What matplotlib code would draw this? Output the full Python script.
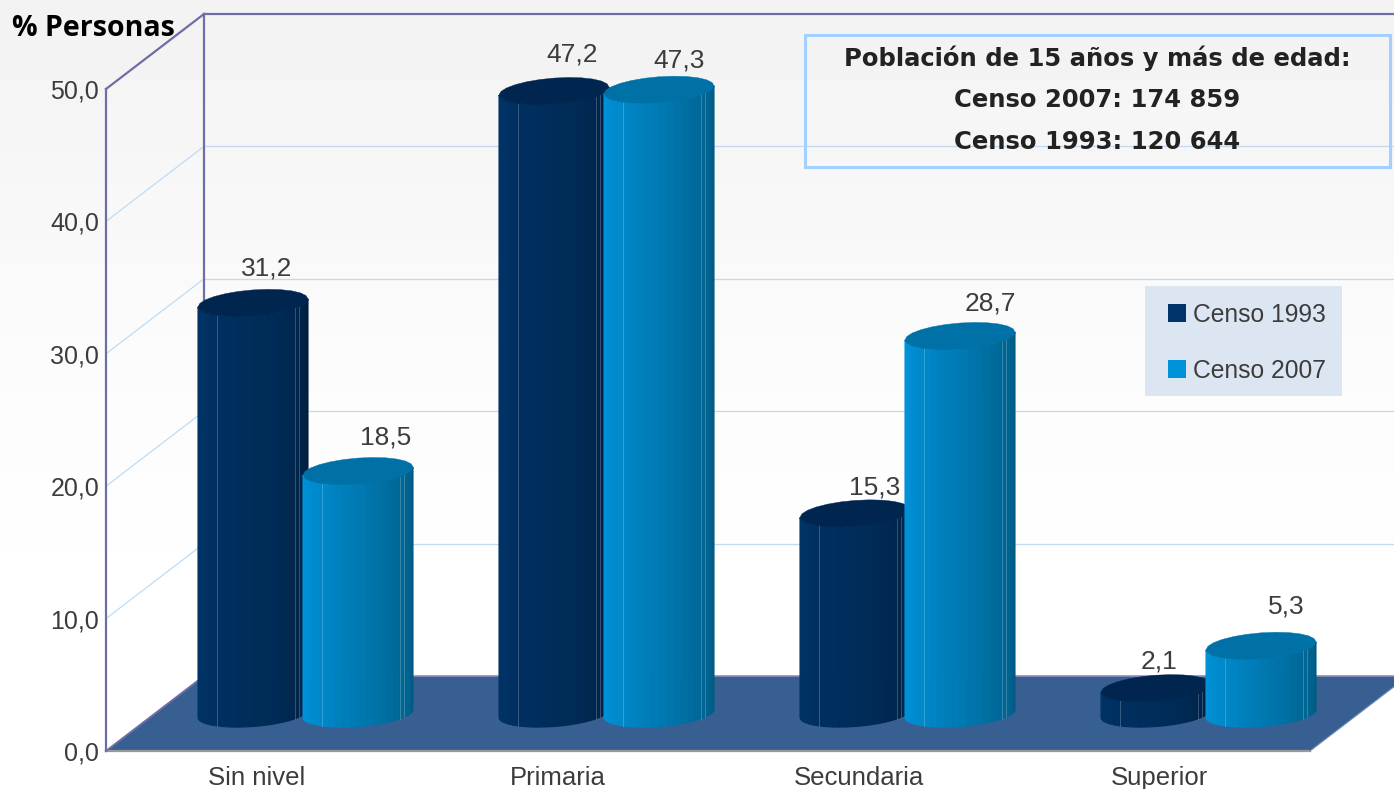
import numpy as np
import matplotlib
matplotlib.use("Agg")
import matplotlib.pyplot as plt
from matplotlib.lines import Line2D
from matplotlib.patches import Rectangle

categories = ["Sin nivel", "Primaria", "Secundaria", "Superior"]
censo_1993 = [31.2, 47.2, 15.3, 2.1]
censo_2007 = [18.5, 47.3, 28.7, 5.3]
y_ticks = [0, 10, 20, 30, 40, 50]
box_lines = ["Población de 15 años y más de edad:", "Censo 2007: 174 859", "Censo 1993: 120 644"]

W, H = 1394, 789
DARK = ["#003468", "#002f5f", "#002b56", "#001f3f"]
LIGHT = ["#0094dc", "#0086c6", "#0070a4", "#005b84"]
TOP_DARK = "#00264f"
TOP_LIGHT = "#0071a6"
TEXT = "#3c3c3c"
FRAME = "#6e6ea6"
GRID = "#c2d9ef"

# label nudges in px from the middle of each bar top
offs_93 = [(14, 32), (18, 34), (20, 23), (3, 24)]
offs_07 = [(28, 31), (20, 27), (30, 30), (25, 37)]

plt.rcParams["font.family"] = ["Liberation Sans", "DejaVu Sans"]

fig = plt.figure(figsize=(W / 100, H / 100), dpi=100)

# background gradient
bg = fig.add_axes([0, 0, 1, 1], zorder=-1)
bg.imshow(np.interp(np.linspace(0, 1, 30), [0, 0.43, 0.8, 1], [0.95, 0.985, 1, 1]).reshape(-1, 1),
          cmap="gray", vmin=0, vmax=1, aspect="auto")
bg.axis("off")

# axes = front plane of the 3d box
ax = fig.add_axes([106 / W, 1 - 751 / H, 1204 / W, 662 / H])
ax.set_xlim(-0.5, 3.5)
ax.set_ylim(0, 50)
ax.patch.set_visible(False)
for s in ax.spines.values():
    s.set_visible(False)
ax.set_xticks(range(4), categories)
ax.set_yticks(y_ticks, [f"{v:.1f}".replace(".", ",") for v in y_ticks])
ax.tick_params(length=0, labelcolor=TEXT, labelsize=18)
ax.tick_params(axis="x", pad=11, labelsize=18.5)
ax.tick_params(axis="y", pad=5)

# depth of the box in data units
dx = 98 / 301
dy = 75 / 13.24
px_x = 1 / 301
px_y = 1 / 13.24


def line(xs, ys, color, lw, z=1):
    ax.add_line(Line2D(xs, ys, color=color, lw=lw, clip_on=False, zorder=z))


# walls and grid
x0, x1 = -0.5, 3.5
for v in y_ticks[1:-1]:
    line([x0, x0 + dx], [v, v + dy], "#bfdcf5", 0.9)
    line([x0 + dx, x1 + dx], [v + dy, v + dy], GRID, 0.9)
ax.fill([x0, x1, x1 + dx, x0 + dx], [0, 0, dy, dy], color="#385f91", clip_on=False, zorder=2, lw=0)
line([x0 + dx, x1 + dx], [dy, dy], "#8f8fb8", 1.2, 2)
line([x0, x1], [0, 0], "#999999", 1.6, 2)
line([x1, x1 + dx], [0, dy], "#6f8fb5", 0.8, 2)
line([x0, x0], [0, 50], FRAME, 1.6, 3)
line([x0, x0 + dx], [0, dy], FRAME, 1.4, 3)
line([x0, x0 + dx], [50, 50 + dy], FRAME, 1.6, 3)
line([x0 + dx, x0 + dx], [dy, 50 + dy], FRAME, 1.6, 3)
line([x0 + dx, x1 + dx], [50 + dy, 50 + dy], FRAME, 1.6, 3)


def cylinder(cx, value, ramp, top_color, z):
    rx = 55 * px_x
    ry = 13 * px_y
    tilt = 4 * px_y
    base = dy / 2
    height = value - 2.5 * px_y  # tops sit a bit lower than the pure scale
    t = np.linspace(np.pi, 2 * np.pi, 23)
    xs = cx + rx * np.cos(t)
    ys = ry * np.sin(t) + tilt * np.cos(t)
    pos = np.linspace(0, 1, len(t) - 1)
    for i in range(len(t) - 1):
        shade = [np.interp(pos[i], [0, 0.3, 0.65, 1], [matplotlib.colors.to_rgb(c)[k] for c in ramp])
                 for k in range(3)]
        ax.fill([xs[i], xs[i + 1], xs[i + 1], xs[i]],
                [base + ys[i], base + ys[i + 1], base + height + ys[i + 1], base + height + ys[i]],
                color=shade, lw=0.8, clip_on=False, zorder=z)
    # thin highlights on some facets
    for i in (6, 17, 18):
        ax.add_line(Line2D([xs[i], xs[i]], [base + ys[i], base + height + ys[i]],
                           color="white", alpha=0.22, lw=0.7, clip_on=False, zorder=z + 0.1))
    tt = np.linspace(0, 2 * np.pi, 25)
    ax.fill(cx + rx * np.cos(tt), base + height + ry * np.sin(tt) + tilt * np.cos(tt),
            color=top_color, lw=0.3, clip_on=False, zorder=z + 0.2)


half = 52.5 * px_x
for i in range(len(categories)):
    mid = i + dx / 2
    cylinder(mid - half, censo_1993[i], DARK, TOP_DARK, 4 + 2 * i)
    cylinder(mid + half, censo_2007[i], LIGHT, TOP_LIGHT, 5 + 2 * i)
    for val, sign, off in ((censo_1993[i], -1, offs_93[i]), (censo_2007[i], 1, offs_07[i])):
        ax.text(mid + sign * half + off[0] * px_x, dy / 2 + val + off[1] * px_y,
                f"{val:.1f}".replace(".", ","), ha="center", va="center", fontsize=19,
                color=TEXT, zorder=20, clip_on=False)

# y title
fig.text(12 / W, 1 - 29 / H, "% Personas", fontsize=20.5, fontweight="bold", color="black",
         family="Open Sans", va="center", ha="left", zorder=30)

# population box
fig.add_artist(Rectangle((805 / W, 1 - 167 / H), 585 / W, 132 / H, fill=False, edgecolor="#a3d0ff",
                         lw=2.2, transform=fig.transFigure, zorder=10))
for txt, yp in zip(box_lines, [58, 100, 142]):
    fig.text(1097 / W, 1 - yp / H, txt, fontsize=17.5, fontweight="bold", color="#222222",
             family="DejaVu Sans", ha="center", va="center", zorder=30)

# legend, with its panel drawn apart so the padding can differ per side
fig.add_artist(Rectangle((1145 / W, 1 - 396 / H), 197 / W, 110 / H, facecolor="#dce6f2", edgecolor="none",
                         transform=fig.transFigure, zorder=14))
handles = [Line2D([], [], ls="", marker="s", ms=12.4, mew=0, color="#00346b"),
           Line2D([], [], ls="", marker="s", ms=12.4, mew=0, color="#0092d8")]
leg = fig.legend(handles, ["Censo 1993", "Censo 2007"], loc="upper left",
                 bbox_to_anchor=(1165 / W, 1 - 303 / H), fontsize=17.7, labelcolor=TEXT,
                 frameon=False, handlelength=1.0, handletextpad=0.15, labelspacing=1.3,
                 borderpad=0, borderaxespad=0)
leg.set_zorder(15)

fig.savefig("out.png", dpi=100)
